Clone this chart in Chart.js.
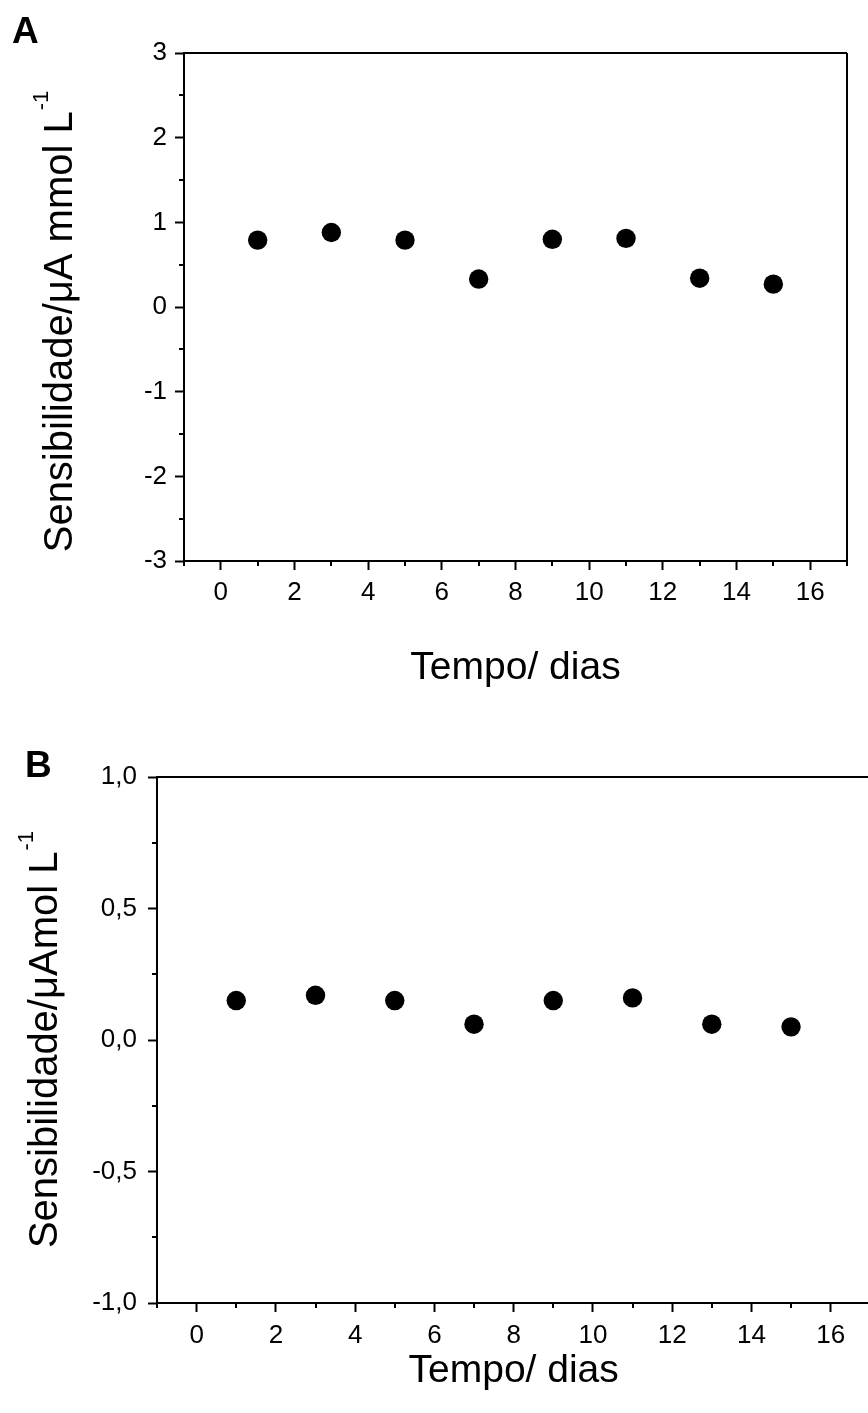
<!DOCTYPE html>
<html lang="pt">
<head>
<meta charset="UTF-8" />
<title>Sensibilidade x Tempo</title>
<script src="https://cdn.jsdelivr.net/npm/chart.js@4.4.0/dist/chart.umd.min.js"></script>
<style>
  html, body { margin: 0; padding: 0; background: #fff; overflow: hidden; }
  body { width: 868px; height: 1413px; position: relative; }
  canvas { position: absolute; left: 0; }
  #chartA { top: 0; }
  #chartB { top: 720px; }
</style>
</head>
<body>
<canvas id="chartA" width="868" height="720"></canvas>
<canvas id="chartB" width="880" height="693"></canvas>

<script>
// dados
const dias = [1, 3, 5, 7, 9, 11, 13, 15];
const sensA = [0.79, 0.88, 0.79, 0.33, 0.80, 0.81, 0.34, 0.27];
const sensB = [0.15, 0.17, 0.15, 0.06, 0.15, 0.16, 0.06, 0.05];

const xTicks = [0, 2, 4, 6, 8, 10, 12, 14, 16];
const xMinor = [-1, 1, 3, 5, 7, 9, 11, 13, 15, 17];
const yTicksA = [-3, -2, -1, 0, 1, 2, 3];
const yMinorA = [-2.5, -1.5, -0.5, 0.5, 1.5, 2.5];
const yTicksB = [-1, -0.5, 0, 0.5, 1];
const yMinorB = [-0.75, -0.25, 0.25, 0.75];

const FONT = "'Liberation Sans', Arial, sans-serif";

// moldura, ticks menores, titulo do eixo y e letra do painel
const panelPlugin = {
  id: 'panel',
  afterDraw(chart, args, opts) {
    const ctx = chart.ctx;
    const a = chart.chartArea;
    const xs = chart.scales.x, ys = chart.scales.y;
    ctx.save();
    ctx.strokeStyle = '#000';
    ctx.lineWidth = 2;
    ctx.beginPath();
    ctx.moveTo(a.left, a.top);
    ctx.lineTo(a.right, a.top);
    ctx.moveTo(a.right, a.top);
    ctx.lineTo(a.right, a.bottom);
    opts.xMinor.forEach(v => {
      const px = Math.round(xs.getPixelForValue(v));
      ctx.moveTo(px, a.bottom);
      ctx.lineTo(px, a.bottom + 5);
    });
    opts.yMinor.forEach(v => {
      const py = Math.round(ys.getPixelForValue(v));
      ctx.moveTo(a.left, py);
      ctx.lineTo(a.left - 5, py);
    });
    ctx.stroke();

    // titulo y com expoente
    ctx.fillStyle = '#000';
    ctx.translate(opts.titleX, opts.titleY);
    ctx.rotate(-Math.PI / 2);
    ctx.textBaseline = 'alphabetic';
    ctx.textAlign = 'left';
    ctx.font = '40px ' + FONT;
    const w1 = ctx.measureText(opts.title).width;
    ctx.font = '22px ' + FONT;
    const w2 = ctx.measureText(opts.sup).width;
    const x0 = -(w1 + w2) / 2;
    ctx.font = '40px ' + FONT;
    ctx.fillText(opts.title, x0, 0);
    ctx.font = '22px ' + FONT;
    ctx.fillText(opts.sup, x0 + w1 + 1, -24);
    ctx.restore();

    ctx.save();
    ctx.fillStyle = '#000';
    ctx.font = 'bold 37px ' + FONT;
    ctx.textBaseline = 'alphabetic';
    ctx.fillText(opts.letter, opts.letterX, opts.letterY);
    ctx.restore();
  }
};

function makeChart(id, values, cfg) {
  const ctx = document.getElementById(id).getContext('2d');
  return new Chart(ctx, {
    type: 'scatter',
    data: {
      datasets: [{
        data: dias.map((d, i) => ({ x: d, y: values[i] })),
        backgroundColor: '#000',
        borderColor: '#000',
        borderWidth: 0,
        pointRadius: 9.7,
        pointHoverRadius: 9.7
      }]
    },
    options: {
      responsive: false,
      animation: false,
      devicePixelRatio: 1,
      layout: { padding: { top: cfg.padTop, right: cfg.padRight, left: 0, bottom: 0 } },
      plugins: {
        legend: { display: false },
        tooltip: { enabled: false },
        panel: cfg.panel
      },
      scales: {
        x: {
          type: 'linear',
          min: -1,
          max: 17,
          afterBuildTicks: s => { s.ticks = xTicks.map(v => ({ value: v })); },
          afterFit: s => { s.height = cfg.xHeight; },
          border: { display: true, color: '#000', width: 2 },
          grid: { drawOnChartArea: false, drawTicks: true, tickLength: 9, tickWidth: 2, tickColor: '#000' },
          ticks: { color: '#000', font: { family: FONT, size: 26 }, padding: cfg.xPad, maxRotation: 0 },
          title: {
            display: true,
            text: 'Tempo/ dias',
            color: '#000',
            font: { family: FONT, size: 39 },
            padding: { top: 0, bottom: cfg.titlePad }
          }
        },
        y: {
          type: 'linear',
          min: cfg.yMin,
          max: cfg.yMax,
          afterBuildTicks: s => { s.ticks = cfg.yTicks.map(v => ({ value: v })); },
          afterFit: s => { s.width = cfg.yWidth; },
          border: { display: true, color: '#000', width: 2 },
          grid: { drawOnChartArea: false, drawTicks: true, tickLength: 9, tickWidth: 2, tickColor: '#000' },
          ticks: {
            color: '#000',
            font: { family: FONT, size: 26 },
            padding: cfg.yPad,
            callback: cfg.fmt
          }
        }
      }
    },
    plugins: [panelPlugin]
  });
}

makeChart('chartA', sensA, {
  padTop: 53, padRight: 21, xHeight: 159, yWidth: 184,
  xPad: 7, yPad: 8, titlePad: 28,
  yMin: -3, yMax: 3, yTicks: yTicksA,
  fmt: v => String(v),
  panel: {
    xMinor: xMinor, yMinor: yMinorA,
    title: 'Sensibilidade/\u03bcA mmol L', sup: '-1',
    titleX: 72, titleY: 322,
    letter: 'A', letterX: 12, letterY: 43
  }
});

makeChart('chartB', sensB, {
  padTop: 57, padRight: 9, xHeight: 110, yWidth: 157,
  xPad: 8, yPad: 11, titlePad: 18,
  yMin: -1, yMax: 1, yTicks: yTicksB,
  fmt: v => v.toFixed(1).replace('.', ','),
  panel: {
    xMinor: xMinor, yMinor: yMinorB,
    title: 'Sensibilidade/\u03bcAmol L', sup: '-1',
    titleX: 57, titleY: 320,
    letter: 'B', letterX: 25, letterY: 57
  }
});
</script>
</body>
</html>
